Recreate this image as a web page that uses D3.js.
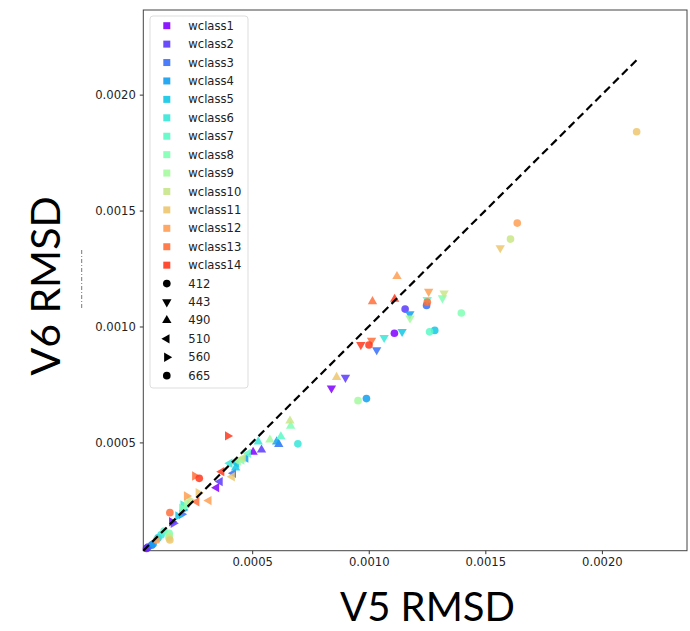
<!DOCTYPE html>
<meta charset="utf-8">
<style>
body { margin: 0; background: #fff; }
.tick text { font: 11.6px "DejaVu Sans", sans-serif; fill: #222; }
.tick line { stroke: #333; }
.legend text { font: 11.6px "DejaVu Sans", sans-serif; fill: #222; }
.title { font-family: Lato, "Open Sans", sans-serif; fill: #000; }
</style>
<svg width="690" height="631"></svg>
<script src="https://d3js.org/d3.v7.min.js"></script>
<script>

// water classes and bands
var classes = ["wclass1","wclass2","wclass3","wclass4","wclass5","wclass6","wclass7",
               "wclass8","wclass9","wclass10","wclass11","wclass12","wclass13","wclass14"];
var bands = ["412","443","490","510","560","665"];
var xTicks = [0.0005, 0.0010, 0.0015, 0.0020];
var yTicks = [0.0005, 0.0010, 0.0015, 0.0020];

// V5 / V6 RMSD per class, one pair of arrays per band
var v5_412 = [0.00111,0.001156,0.001248,0.00099,0.001283,0.000696,0.001261,0.001397,0.000954,0.001608,0.002149,0.001637,0.001251,0.001001];
var v6_412 = [0.000971,0.001075,0.001091,0.000689,0.000983,0.000494,0.000977,0.001058,0.00068,0.001377,0.00184,0.001446,0.001105,0.00092];
var v5_443 = [0.00084,0.0009,0.001034,0.001176,0.001143,0.001066,0.001251,0.001316,0.001177,0.001323,0.001564,0.001257,0.001012,0.000966];
var v6_443 = [0.000734,0.00078,0.000899,0.001054,0.000978,0.000952,0.001115,0.001123,0.001036,0.001144,0.001339,0.001151,0.00094,0.000921];
var v5_490 = [0.000504,0.00054,0.000614,0.000605,0.000429,0.000526,0.000623,0.000665,0.000576,0.000662,0.000862,0.001121,0.001016,0.001111];
var v6_490 = [0.000458,0.000468,0.000492,0.000503,0.000391,0.000503,0.000525,0.000571,0.000511,0.000593,0.000781,0.001216,0.001108,0.001118];
var v5_510 = [0.000347,0.000362,0.000419,0.000472,0.000433,0.000404,0.000483,0.000455,0.00044,0.000461,0.000414,0.000314,0.000262,0.000369];
var v6_510 = [0.000305,0.000331,0.000367,0.000432,0.00041,0.00041,0.000453,0.000424,0.00042,0.000433,0.000352,0.000249,0.000244,0.000374];
var v5_560 = [0.000155,0.000162,0.000198,0.000204,0.000182,0.000204,0.000212,0.000198,0.00022,0.000233,0.000269,0.000219,0.000254,0.000395];
var v6_560 = [0.000158,0.000151,0.00019,0.000209,0.000183,0.00023,0.000222,0.000216,0.000239,0.000252,0.000283,0.000269,0.000355,0.000528];
var v5_665 = [0.000047,0.000053,0.000069,0.000075,0.000096,0.000109,0.000122,0.000144,0.000144,0.000143,0.000147,0.00009,0.000147,0.000273];
var v6_665 = [0.000043,0.000049,0.000057,0.000062,0.000088,0.000101,0.000118,0.000108,0.000096,0.000088,0.000079,0.000079,0.000197,0.000345];

var v5 = [v5_412, v5_443, v5_490, v5_510, v5_560, v5_665];
var v6 = [v6_412, v6_443, v6_490, v6_510, v6_560, v6_665];

var svg = d3.select("svg");

var plotL = 143.3, plotR = 687, plotT = 10, plotB = 550.7;

var x = d3.scaleLinear().domain([0.000033, 0.002365]).range([plotL, plotR]);
var y = d3.scaleLinear().domain([0.000033, 0.002365]).range([plotB, plotT]);

// matplotlib "rainbow"
function rainbow(t) {
  var r = Math.min(1, Math.abs(2 * t - 0.5)),
      g = Math.sin(t * Math.PI),
      b = Math.cos(t * Math.PI / 2);
  return d3.rgb(r * 255, g * 255, b * 255).formatHex();
}
var color = classes.map(function(d, i) { return rainbow(i / 14); });

// marker per band: [symbol, rotation]
var shapes = [
  [d3.symbolCircle, 0],
  [d3.symbolTriangle, 180],
  [d3.symbolTriangle, 0],
  [d3.symbolTriangle, -90],
  [d3.symbolTriangle, 90],
  [d3.symbolCircle, 0]
];
function sym(b) {
  return d3.symbol().type(shapes[b][0]).size(shapes[b][0] === d3.symbolCircle ? 46 : 38)();
}

// axes
svg.append("g")
    .attr("transform", "translate(0," + plotB + ")")
    .call(d3.axisBottom(x).tickValues(xTicks).tickFormat(d3.format(".4f")).tickSize(3.5).tickPadding(4))
    .call(function(g) { g.select(".domain").remove(); });

svg.append("g")
    .attr("transform", "translate(" + plotL + ",0)")
    .call(d3.axisLeft(y).tickValues(yTicks).tickFormat(d3.format(".4f")).tickSize(3.5).tickPadding(4))
    .call(function(g) { g.select(".domain").remove(); });

svg.append("rect")
    .attr("x", plotL).attr("y", plotT)
    .attr("width", plotR - plotL).attr("height", plotB - plotT)
    .attr("fill", "none").attr("stroke", "#444").attr("stroke-width", 1);

// points
var pts = svg.append("g");
classes.forEach(function(c, i) {
  bands.forEach(function(bd, b) {
    pts.append("path")
        .attr("d", sym(b))
        .attr("transform", "translate(" + x(v5[b][i]) + "," + y(v6[b][i]) + ") rotate(" + shapes[b][1] + ")")
        .attr("fill", color[i])
        .attr("fill-opacity", 0.85);
  });
});

// 1:1 line
svg.append("line")
    .attr("x1", x(0.000033)).attr("y1", y(0.000033))
    .attr("x2", x(0.00215)).attr("y2", y(0.00215))
    .attr("stroke", "#000").attr("stroke-width", 2.2)
    .attr("stroke-dasharray", "8,4.5");

// legend
var legend = svg.append("g").attr("class", "legend");
legend.append("rect")
    .attr("x", 150).attr("y", 16).attr("width", 98).attr("height", 372)
    .attr("rx", 3).attr("fill", "#fff").attr("fill-opacity", 0.8)
    .attr("stroke", "#ddd");

var rowH = 18.42, row0 = 25.7;
classes.forEach(function(c, i) {
  var yy = row0 + i * rowH;
  legend.append("rect")
      .attr("x", 163.3).attr("y", yy - 3.5).attr("width", 7).attr("height", 7)
      .attr("fill", color[i]).attr("fill-opacity", 0.9);
  legend.append("text").attr("x", 188.3).attr("y", yy).attr("dy", "0.35em").text(c);
});
bands.forEach(function(bd, b) {
  var yy = row0 + (classes.length + b) * rowH;
  legend.append("path")
      .attr("d", sym(b))
      .attr("transform", "translate(166.8," + yy + ") rotate(" + shapes[b][1] + ")")
      .attr("fill", "#000");
  legend.append("text").attr("x", 188.3).attr("y", yy).attr("dy", "0.35em").text(bd);
});

// axis titles
svg.append("text")
    .attr("class", "title")
    .attr("x", 427.5).attr("y", 621)
    .attr("text-anchor", "middle")
    .style("font-size", "40px")
    .text("V5 RMSD");

svg.append("text")
    .attr("class", "title")
    .attr("transform", "translate(60,286) rotate(-90)")
    .attr("text-anchor", "middle")
    .style("font-size", "41px")
    .text("V6 RMSD");

// small leftover mark next to the y title
svg.append("line")
    .attr("x1", 81.7).attr("x2", 81.7).attr("y1", 250).attr("y2", 308)
    .attr("stroke", "#555").attr("stroke-width", 0.8)
    .attr("stroke-dasharray", "4,2,1,2");

</script>
